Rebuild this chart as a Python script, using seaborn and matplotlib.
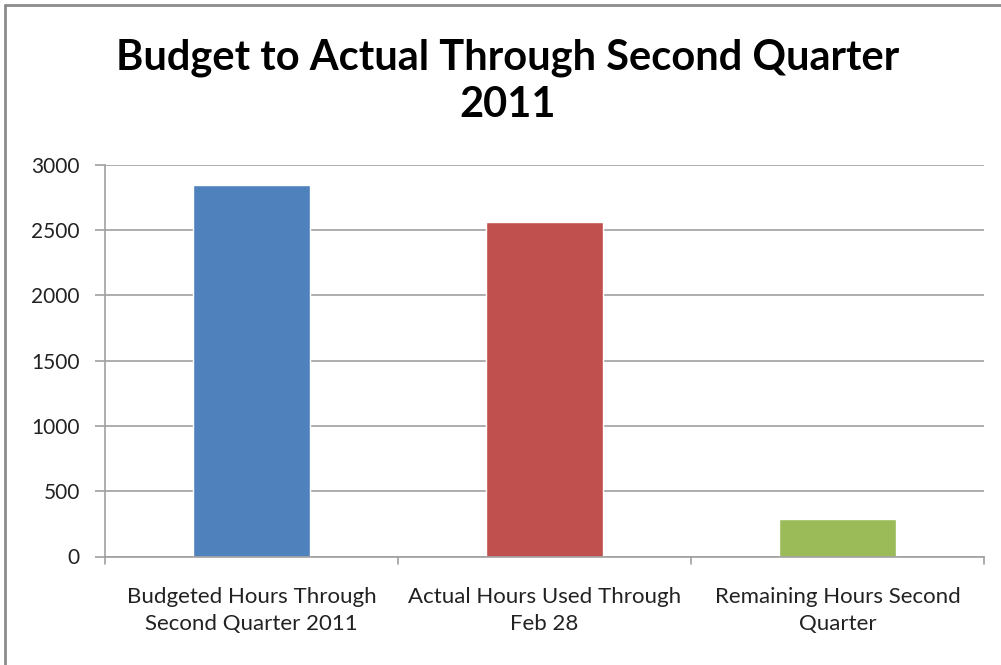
import seaborn as sns
import matplotlib.pyplot as plt
from matplotlib.lines import Line2D
import pandas as pd

categories = ["Budgeted Hours Through\nSecond Quarter 2011",
              "Actual Hours Used Through\nFeb 28",
              "Remaining Hours Second\nQuarter"]
hours = [2845, 2560, 285]
colors = ["#4f81bd", "#c0504d", "#9bbb59"]
yticks = [0, 500, 1000, 1500, 2000, 2500, 3000]

df = pd.DataFrame({"category": categories, "hours": hours})

sns.set_style("white")
plt.rcParams["font.family"] = ["Lato", "DejaVu Sans"]

W, H = 1001, 665
fig = plt.figure(figsize=(W / 100, H / 100), dpi=100)
ax = fig.add_axes([105 / W, 1 - 556.5 / H, (984 - 105) / W, (556.5 - 164.7) / H])

sns.barplot(data=df, x="category", y="hours", hue="category", palette=colors,
            width=0.40, legend=False, ax=ax, saturation=1)

ax.set_ylim(0, 3000)
ax.set_xlim(-0.5, 2.5)
ax.set_yticks(yticks)
ax.set_yticklabels([str(v) for v in yticks], fontsize=15, color="#222222")
ax.set_xticks([0, 1, 2])
ax.set_xticklabels(categories, fontsize=16, color="#222222", linespacing=1.45)
ax.tick_params(axis="x", length=0, pad=22)
ax.tick_params(axis="y", length=7, color="#a0a0a0", width=1.2, pad=11, left=True)
ax.set_xlabel("")
ax.set_ylabel("")
ax.yaxis.grid(True, color="#a0a0a0", linewidth=1.2)
ax.set_axisbelow(True)
for s in ["top", "right"]:
    ax.spines[s].set_visible(False)
for s in ["left", "bottom"]:
    ax.spines[s].set_color("#a0a0a0")
    ax.spines[s].set_linewidth(1.2)

# category boundary ticks below the x axis
for b in [-0.5, 0.5, 1.5, 2.5]:
    ax.plot([b, b], [0, -0.02], transform=ax.get_xaxis_transform(),
            color="#a0a0a0", linewidth=1.2, clip_on=False)

fig.text(508 / W, 1 - 81 / H, "Budget to Actual Through Second Quarter\n2011",
         ha="center", va="center", fontsize=30, fontweight="bold",
         linespacing=1.3, color="black")

# chart area border (left and top edges)
fig.add_artist(Line2D([4.5 / W, 4.5 / W], [0, 1 - 5 / H], color="#8c8c8c", linewidth=2))
fig.add_artist(Line2D([4.5 / W, 1], [1 - 5 / H, 1 - 5 / H], color="#8c8c8c", linewidth=2))

fig.savefig("out.png", dpi=100, facecolor="white")
